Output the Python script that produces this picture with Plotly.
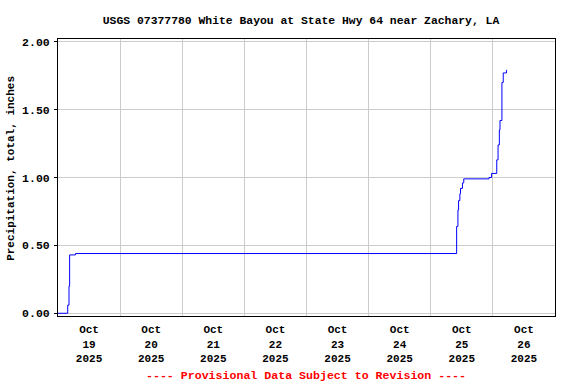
import plotly.graph_objects as go

times = [
    "2025-10-19 00:00", "2025-10-19 03:45", "2025-10-19 04:15", "2025-10-19 04:30",
    "2025-10-19 06:45", "2025-10-25 10:00", "2025-10-25 10:30", "2025-10-25 10:45",
    "2025-10-25 11:15", "2025-10-25 11:30", "2025-10-25 12:15", "2025-10-25 12:45",
    "2025-10-25 22:30", "2025-10-25 23:30", "2025-10-26 01:30", "2025-10-26 02:00",
    "2025-10-26 02:30", "2025-10-26 02:45", "2025-10-26 03:30", "2025-10-26 04:00",
    "2025-10-26 05:15", "2025-10-26 05:30",
]
precip = [
    0.00, 0.06, 0.20, 0.43,
    0.44, 0.64, 0.76, 0.83,
    0.88, 0.92, 0.96, 0.99,
    1.00, 1.03, 1.13, 1.24,
    1.35, 1.42, 1.70, 1.77,
    1.79, 1.79,
]

label_dates = ["2025-10-%02d 12:00" % d for d in range(19, 27)]
label_text = ["Oct<br>%d<br>2025" % d for d in range(19, 27)]
y_ticks = [0, 0.5, 1.0, 1.5, 2.0]
y_text = ["0.00", "0.50", "1.00", "1.50", "2.00"]

FONT = "Liberation Mono"

fig = go.Figure()
fig.add_trace(go.Scatter(
    x=times, y=precip, mode="lines", line=dict(color="#0000ff", width=1, shape="hv"),
    showlegend=False, hoverinfo="x+y",
))

fig.update_layout(
    width=576, height=384,
    margin=dict(l=58, r=21, t=39, b=68, autoexpand=False),
    paper_bgcolor="white", plot_bgcolor="white",
    font=dict(family=FONT, size=11, color="black"),
    title=dict(text="<b>USGS 07377780 White Bayou at State Hwy 64 near Zachary, LA</b>",
               x=0.5226, xanchor="center", xref="container", y=0.948, yref="container",
               yanchor="middle", font=dict(family=FONT, size=11.4, color="black")),
    xaxis=dict(
        type="date", range=["2025-10-19 00:00", "2025-10-27 00:00"],
        tickvals=label_dates,
        ticktext=["<b>%s</b>" % t.replace("<br>", "</b><br><b>") for t in label_text],
        showgrid=False,
        minor=dict(tickvals=["2025-10-%02d" % d for d in range(20, 27)], showgrid=True,
                   gridcolor="#cccccc", gridwidth=1, ticks=""),
        showline=True, linecolor="black", linewidth=1, mirror=True,
        ticks="", zeroline=False, automargin=False, ticklabelstandoff=3,
        tickfont=dict(family=FONT, size=11, color="black"),
    ),
    yaxis=dict(
        range=[-0.02, 2.02],
        tickvals=y_ticks, ticktext=["<b>%s</b>" % t for t in y_text],
        showgrid=True, gridcolor="#cccccc", gridwidth=1,
        showline=True, linecolor="black", linewidth=1, mirror=True,
        ticks="outside", ticklen=3, tickcolor="black", zeroline=False, automargin=False,
        ticklabelstandoff=2,
        tickfont=dict(family=FONT, size=11.5, color="black"),
    ),
    annotations=[
        dict(text="<b>Precipitation, total, inches</b>", textangle=-90,
             xref="paper", yref="paper", x=-0.0936, y=0.533, xanchor="center", yanchor="middle",
             showarrow=False, font=dict(family=FONT, size=11, color="black")),
        dict(text="<b>---- Provisional Data Subject to Revision ----</b>",
             xref="paper", yref="paper", x=0.498, y=-0.213, xanchor="center", yanchor="middle",
             showarrow=False, font=dict(family=FONT, size=11.6, color="red")),
    ],
)

fig.write_html("out.html", config={"displayModeBar": False},
               post_script="document.body.style.margin='0';")
